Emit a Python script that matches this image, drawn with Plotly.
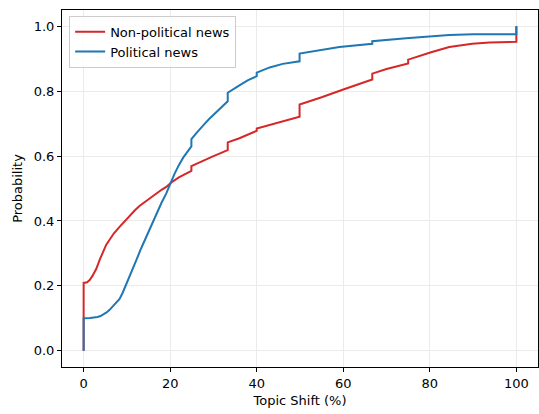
import plotly.graph_objects as go

# Non-political news ECDF (x = topic shift %, y = cumulative probability)
nonpol_x = [0, 0, 0.8, 1.4, 2.0, 2.9, 3.7, 4.5, 5.2, 6.0, 7.0, 8.3, 9.5, 10.6, 11.8, 12.9, 14.0,
            15.2, 16.8, 18.0, 19.1, 20.2, 22, 24.9,
            24.9, 27, 30, 33.3, 33.3, 36, 40, 40, 45, 49.9, 49.9, 55, 60, 66.7,
            66.7, 70, 75, 75, 80.3, 84.5, 89.8, 93.8, 100, 100]
nonpol_y = [0.0, 0.209, 0.211, 0.218, 0.230, 0.252, 0.280, 0.306, 0.326, 0.342, 0.362, 0.382, 0.400,
            0.416, 0.432, 0.446, 0.457, 0.467, 0.485, 0.496, 0.505, 0.518, 0.534, 0.554,
            0.569, 0.582, 0.600, 0.618, 0.642, 0.655, 0.678, 0.685, 0.702, 0.721, 0.759, 0.781, 0.805, 0.836,
            0.854, 0.868, 0.885, 0.897, 0.920, 0.936, 0.946, 0.950, 0.952, 1.0]

# Political news ECDF
pol_x = [0, 0, 1.5, 2.5, 3.2, 3.9, 4.6, 5.3, 6.0, 6.8, 7.6, 8.3, 9.0, 9.8, 11.0, 12.2, 13.3, 14.5,
         15.7, 16.8, 18.0, 19.1, 20.2, 21.0, 22, 23, 24.9,
         24.9, 26, 27, 28, 29, 30, 31, 32, 33.3, 33.3, 34.5, 36, 38, 40, 40, 41.5, 43, 46, 49.9,
         49.9, 55, 59.1, 66.7, 66.7, 74.5, 80.3, 84.5, 90, 100, 100]
pol_y = [0.0, 0.100, 0.101, 0.102, 0.104, 0.107, 0.112, 0.118, 0.126, 0.137, 0.148, 0.160, 0.178, 0.205,
         0.242, 0.280, 0.316, 0.352, 0.389, 0.424, 0.456, 0.485, 0.521, 0.545, 0.572, 0.595, 0.630,
         0.652, 0.670, 0.686, 0.700, 0.714, 0.727, 0.740, 0.752, 0.769, 0.795, 0.806, 0.818, 0.834, 0.846,
         0.857, 0.865, 0.873, 0.884, 0.892,
         0.916, 0.926, 0.936, 0.946, 0.954, 0.963, 0.969, 0.973, 0.975, 0.975, 1.0]

x_ticks = [0, 20, 40, 60, 80, 100]
y_ticks = [0.0, 0.2, 0.4, 0.6, 0.8, 1.0]

fig = go.Figure()
fig.add_trace(go.Scatter(x=nonpol_x, y=nonpol_y, mode="lines", name="Non-political news",
                         line=dict(color="#d62728", width=2)))
fig.add_trace(go.Scatter(x=pol_x, y=pol_y, mode="lines", name="Political news",
                         line=dict(color="#1f77b4", width=2)))

font = "DejaVu Sans"
axis_common = dict(showline=True, mirror=True, linecolor="black", linewidth=1,
                   ticks="outside", ticklen=4, tickcolor="black", tickwidth=1,
                   showgrid=True, gridcolor="#ebebeb", gridwidth=1, zeroline=False,
                   automargin=False,
                   tickfont=dict(family=font, size=13, color="black"))

fig.update_layout(
    width=539, height=414,
    margin=dict(l=62, r=1, t=10, b=47),
    paper_bgcolor="white", plot_bgcolor="white",
    font=dict(family=font, size=13, color="black"),
    showlegend=True,
    legend=dict(x=0.015, y=0.984, xanchor="left", yanchor="top",
                bgcolor="rgba(255,255,255,0.8)", bordercolor="#cccccc", borderwidth=1,
                font=dict(family=font, size=13, color="black"),
                tracegroupgap=0, itemwidth=30),
    xaxis=dict(range=[-5, 105], tickvals=x_ticks, ticktext=[str(v) for v in x_ticks],
               title=dict(text="Topic Shift (%)", font=dict(family=font, size=13), standoff=6),
               **axis_common),
    yaxis=dict(range=[-0.05, 1.05], tickvals=y_ticks, ticktext=[f"{v:.1f}" for v in y_ticks],
               title=dict(text="Probability", font=dict(family=font, size=13), standoff=8),
               **axis_common),
)

fig.write_html("out.html", config={"displayModeBar": False},
               post_script="document.body.style.margin='0';document.body.style.overflow='hidden';")
